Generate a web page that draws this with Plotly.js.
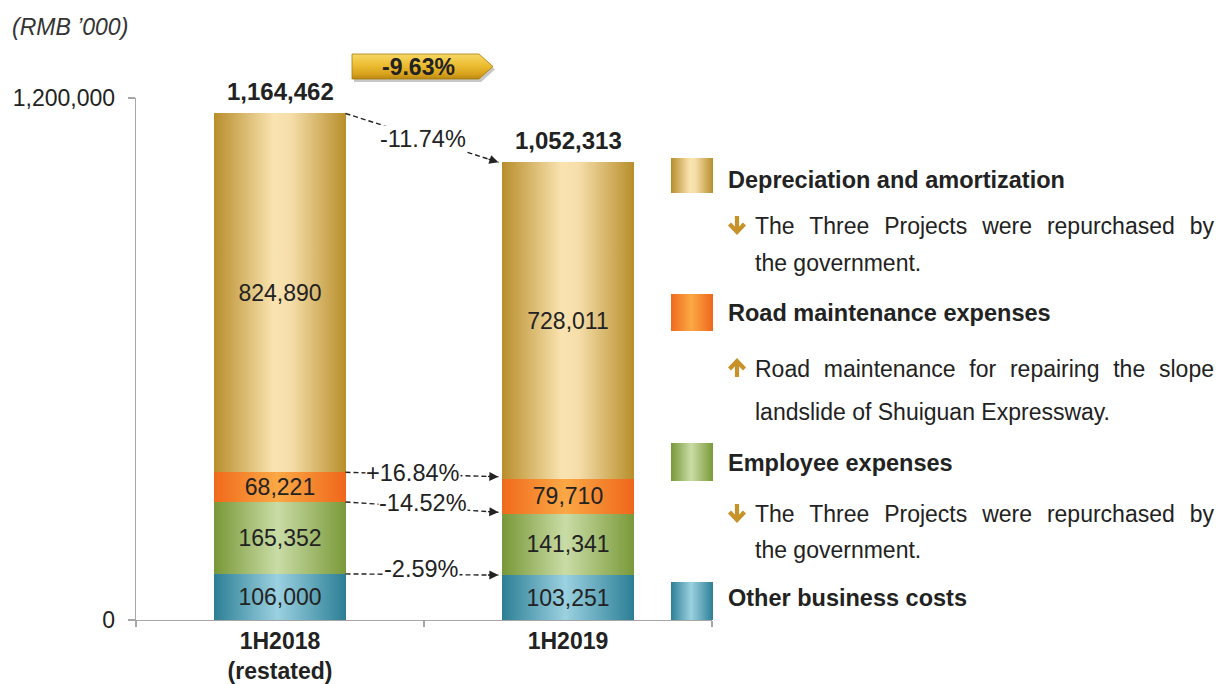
<!DOCTYPE html>
<html>
<head>
<meta charset="utf-8">
<script src="https://cdn.plot.ly/plotly-3.0.1.min.js"></script>
<style>
html,body{margin:0;padding:0;background:#fff;}
#chart{width:1217px;height:684px;}
</style>
</head>
<body>
<div id="chart"></div>
<script>
// ---------------- DATA ----------------
const categories = ['1H2018<br>(restated)', '1H2019'];
const otherCosts = [106000, 103251];
const employeeExp = [165352, 141341];
const roadMaint = [68221, 79710];
const depreciation = [824890, 728011];
const totals = [1164462, 1052313];
const changeDep = '-11.74%';
const changeRoad = '+16.84%';
const changeEmp = '-14.52%';
const changeOther = '-2.59%';
const totalChange = '-9.63%';
const unitLabel = '(RMB \u2019000)';
const yTickVals = [0, 1200000];
const yTickText = ['0', '1,200,000'];
const legendTitles = ['Depreciation and amortization', 'Road maintenance expenses', 'Employee expenses', 'Other business costs'];
const noteDep = ['The Three Projects were repurchased by', 'the government.'];
const noteRoad = ['Road maintenance for repairing the slope', 'landslide of Shuiguan Expressway.'];
const noteEmp = ['The Three Projects were repurchased by', 'the government.'];

// ---------------- LAYOUT GEOMETRY ----------------
const W = 1217, H = 684, ML = 136, MR = 505, MT = 98, MB = 64;
const PW = W - ML - MR, PH = H - MT - MB;
const YMAX = 1200000;
const BARW = 0.455;
const FONT = 'Liberation Sans, Arial, sans-serif';
const TXT = '#222222';
const FS = 23;
function px(X) { return (X - ML) / PW; }
function py(Y) { return (H - MB - Y) / PH; }
function valToPix(v) { return MT + (1 - v / YMAX) * PH; }
const catPix = PW / 2; // pixels per category

const fmt = v => v.toLocaleString('en-US');

// ---------------- TRACES ----------------
function barTrace(name, vals, color) {
  return {
    type: 'bar', name: name, x: categories, y: vals,
    width: BARW,
    marker: { color: color, line: { width: 0 } },
    text: vals.map(fmt), textposition: 'inside', insidetextanchor: 'middle',
    constraintext: 'none',
    insidetextfont: { family: FONT, size: FS, color: TXT },
    hoverinfo: 'skip'
  };
}
const data = [
  barTrace(legendTitles[3], otherCosts, '#2f8299'),
  barTrace(legendTitles[2], employeeExp, '#7c9b3c'),
  barTrace(legendTitles[1], roadMaint, '#f26b1d'),
  barTrace(legendTitles[0], depreciation, '#bb9130')
];

// cumulative tops
const cumOther = otherCosts.slice();
const cumEmp = otherCosts.map((v, i) => v + employeeExp[i]);
const cumRoad = cumEmp.map((v, i) => v + roadMaint[i]);
const cumDep = cumRoad.map((v, i) => v + depreciation[i]);

const shapes = [];
const annotations = [];
const gradShapes = []; // [shapeIndex, gradientId]

// ---------------- CONNECTORS ----------------
const connectors = [
  { y0: cumDep[0], y1: cumDep[1], label: changeDep, dx: 1, dy: 1 },
  { y0: cumRoad[0], y1: cumRoad[1] + 5000, label: changeRoad, dx: -9, dy: -2 },
  { y0: cumEmp[0], y1: cumEmp[1] + 3000, label: changeEmp, dx: 1, dy: -4 },
  { y0: cumOther[0], y1: cumOther[1], label: changeOther, dx: 0, dy: -5 }
];
const xs = 0 + BARW / 2, xe = 1 - BARW / 2 - 0.014;
connectors.forEach(c => {
  shapes.push({ type: 'line', xref: 'x', yref: 'y', x0: xs, x1: xe, y0: c.y0, y1: c.y1,
    line: { color: TXT, width: 1.4, dash: '5px,3px' } });
  const dxp = (xe - xs) * catPix;
  const dyp = valToPix(c.y1) - valToPix(c.y0);
  const len = Math.sqrt(dxp * dxp + dyp * dyp);
  const ux = dxp / len, uy = dyp / len;
  annotations.push({ x: xe, y: c.y1, xref: 'x', yref: 'y', text: '', showarrow: true,
    ax: -ux * 12, ay: -uy * 12, axref: 'pixel', ayref: 'pixel',
    arrowhead: 2, arrowsize: 1.4, arrowwidth: 1.3, arrowcolor: TXT, standoff: 0 });
  annotations.push({ x: (xs + xe) / 2, y: (c.y0 + c.y1) / 2, xref: 'x', yref: 'y',
    xanchor: 'center', yanchor: 'middle',
    text: c.label, showarrow: false, xshift: c.dx, yshift: -c.dy,
    bgcolor: '#ffffff', borderpad: 0,
    font: { family: FONT, size: 23.5, color: TXT } });
});

// ---------------- TOTAL LABELS ----------------
totals.forEach((t, i) => {
  annotations.push({ x: i, y: t, xref: 'x', yref: 'y', text: fmt(t), showarrow: false,
    xanchor: 'center', yanchor: 'bottom', yshift: 6,
    font: { family: FONT, size: 24, color: TXT, weight: 'bold' } });
});

// ---------------- UNIT LABEL ----------------
annotations.push({ x: px(10), y: py(27), xref: 'paper', yref: 'paper', xanchor: 'left', yanchor: 'middle',
  text: '<i>' + unitLabel + '</i>', showarrow: false, font: { family: FONT, size: 23, color: '#333333' } });

// ---------------- BADGE ----------------
function badgePath(ox, oy) {
  const x0 = 352 + ox, x1 = 479 + ox, x2 = 493 + ox, y0 = 54 + oy, y1 = 79 + oy, ym = 66.5 + oy;
  return 'M' + px(x0) + ',' + py(y0) + ' L' + px(x1) + ',' + py(y0) + ' L' + px(x2) + ',' + py(ym) +
    ' L' + px(x1) + ',' + py(y1) + ' L' + px(x0) + ',' + py(y1) + ' Z';
}
shapes.push({ type: 'path', xref: 'paper', yref: 'paper', path: badgePath(2, 3),
  fillcolor: 'rgba(0,0,0,0.22)', line: { width: 0 } });
shapes.push({ type: 'path', xref: 'paper', yref: 'paper', path: badgePath(0, 0),
  fillcolor: '#e8b52a', line: { width: 0.8, color: '#a77c12' } });
gradShapes.push([shapes.length - 1, 'gBadge']);
annotations.push({ x: px(418), y: py(67), xref: 'paper', yref: 'paper', xanchor: 'center', yanchor: 'middle',
  text: totalChange, showarrow: false,
  font: { family: FONT, size: 23, color: TXT, weight: 'bold' } });

// ---------------- LEGEND ----------------
const legendBoxes = [
  { y0: 158, y1: 193, grad: 'gGold', col: '#bb9130', cy: 180 },
  { y0: 294, y1: 331, grad: 'gOrange', col: '#f26b1d', cy: 313 },
  { y0: 443, y1: 481, grad: 'gGreen', col: '#7c9b3c', cy: 463 },
  { y0: 582, y1: 620, grad: 'gBlue', col: '#2f8299', cy: 598 }
];
legendBoxes.forEach((b, i) => {
  shapes.push({ type: 'rect', xref: 'paper', yref: 'paper', x0: px(671), x1: px(713), y0: py(b.y1), y1: py(b.y0),
    fillcolor: b.col, line: { width: 0 }, layer: 'above' });
  gradShapes.push([shapes.length - 1, b.grad]);
  annotations.push({ x: px(726), y: py(b.cy), xref: 'paper', yref: 'paper', xanchor: 'left', yanchor: 'middle',
    text: legendTitles[i], showarrow: false, font: { family: FONT, size: 23.5, color: TXT, weight: 'bold' } });
});

const ARROWCOL = '#c8922a';
function arrowShape(cy, up) {
  const cx = 737;
  let p;
  if (!up) {
    p = 'M' + px(cx) + ',' + py(cy - 9) + ' L' + px(cx) + ',' + py(cy + 6) +
      ' M' + px(cx - 7.5) + ',' + py(cy - 1) + ' L' + px(cx) + ',' + py(cy + 7) + ' L' + px(cx + 7.5) + ',' + py(cy - 1);
  } else {
    p = 'M' + px(cx) + ',' + py(cy + 9) + ' L' + px(cx) + ',' + py(cy - 6) +
      ' M' + px(cx - 7.5) + ',' + py(cy + 1) + ' L' + px(cx) + ',' + py(cy - 7) + ' L' + px(cx + 7.5) + ',' + py(cy + 1);
  }
  shapes.push({ type: 'path', xref: 'paper', yref: 'paper', path: p, line: { color: ARROWCOL, width: 4.2 } });
}
const justified = [];
function note(lines, cy1, cy2, up) {
  arrowShape(cy1 - 1, up);
  annotations.push({ x: px(753), y: py(cy1), xref: 'paper', yref: 'paper', xanchor: 'left', yanchor: 'middle', align: 'left',
    text: lines[0], showarrow: false, font: { family: FONT, size: FS, color: TXT } });
  justified.push(annotations.length - 1);
  annotations.push({ x: px(753), y: py(cy2), xref: 'paper', yref: 'paper', xanchor: 'left', yanchor: 'middle', align: 'left',
    text: lines[1], showarrow: false, font: { family: FONT, size: FS, color: TXT } });
}
note(noteDep, 226, 263, false);
note(noteRoad, 369, 412, true);
note(noteEmp, 514, 550, false);

const layout = {
  width: W, height: H,
  margin: { l: ML, r: MR, t: MT, b: MB },
  paper_bgcolor: '#ffffff', plot_bgcolor: '#ffffff',
  barmode: 'stack', showlegend: false,
  font: { family: FONT, size: FS, color: TXT },
  xaxis: {
    type: 'category', range: [-0.5, 1.5], fixedrange: true,
    showline: true, linecolor: '#a6a6a6', linewidth: 1.3,
    ticks: 'outside', tickson: 'boundaries', ticklen: 6, tickcolor: '#a6a6a6', tickwidth: 1.3,
    tickfont: { family: FONT, size: FS, color: TXT, weight: 'bold' },
    showgrid: false, zeroline: false
  },
  yaxis: {
    range: [0, YMAX], fixedrange: true,
    tickmode: 'array', tickvals: yTickVals, ticktext: yTickText,
    showline: true, linecolor: '#a6a6a6', linewidth: 1.3,
    ticks: 'outside', ticklen: 7, tickcolor: '#a6a6a6', tickwidth: 1.3,
    ticklabelstandoff: 8,
    tickfont: { family: FONT, size: FS, color: TXT },
    showgrid: false, zeroline: false
  },
  shapes: shapes,
  annotations: annotations
};

const gradDefs = {
  gGold: [['0%', '#b98e2c'], ['45%', '#f9e3b0'], ['58%', '#f6deaa'], ['100%', '#b88f2c']],
  gOrange: [['0%', '#f06a1c'], ['48%', '#fba845'], ['100%', '#ef671b']],
  gGreen: [['0%', '#789838'], ['48%', '#cadca6'], ['100%', '#7a9a3a']],
  gBlue: [['0%', '#2d7f96'], ['48%', '#9bd1e0'], ['100%', '#2c7f96']]
};

const gd = document.getElementById('chart');
Plotly.newPlot(gd, data, layout, { staticPlot: true, displayModeBar: false }).then(() => {
  const NS = 'http://www.w3.org/2000/svg';
  const svg = gd.querySelector('.main-svg');
  let defs = svg.querySelector('defs');
  if (!defs) { defs = document.createElementNS(NS, 'defs'); svg.insertBefore(defs, svg.firstChild); }
  function addGrad(id, stops, vertical) {
    const g = document.createElementNS(NS, 'linearGradient');
    g.setAttribute('id', id);
    g.setAttribute('x1', '0'); g.setAttribute('y1', '0');
    g.setAttribute('x2', vertical ? '0' : '1'); g.setAttribute('y2', vertical ? '1' : '0');
    stops.forEach(s => {
      const st = document.createElementNS(NS, 'stop');
      st.setAttribute('offset', s[0]); st.setAttribute('stop-color', s[1]);
      g.appendChild(st);
    });
    defs.appendChild(g);
  }
  Object.keys(gradDefs).forEach(k => addGrad(k, gradDefs[k], false));
  addGrad('gBadge', [['0%', '#f7d865'], ['45%', '#ecbd32'], ['80%', '#d9a21d'], ['100%', '#b98812']], true);

  const traceGrads = ['gBlue', 'gGreen', 'gOrange', 'gGold'];
  gd.querySelectorAll('.barlayer .trace').forEach((tr, i) => {
    tr.querySelectorAll('path').forEach(p => { p.style.fill = 'url(#' + traceGrads[i] + ')'; p.style.fillOpacity = 1; });
  });
  gradShapes.forEach(([idx, gid]) => {
    gd.querySelectorAll('.shapelayer path[data-index="' + idx + '"]').forEach(p => {
      p.style.fill = 'url(#' + gid + ')'; p.style.fillOpacity = 1;
    });
  });
  // justify note lines
  const targetW = 1212 - 753;
  justified.forEach(idx => {
    const g = gd.querySelector('.annotation[data-index="' + idx + '"]');
    if (!g) return;
    const t = g.querySelector('text');
    const len = t.getComputedTextLength();
    const spaces = (t.textContent.match(/ /g) || []).length;
    if (spaces > 0 && len < targetW) {
      t.style.wordSpacing = ((targetW - len) / spaces) + 'px';
    }
  });
});
</script>
</body>
</html>
